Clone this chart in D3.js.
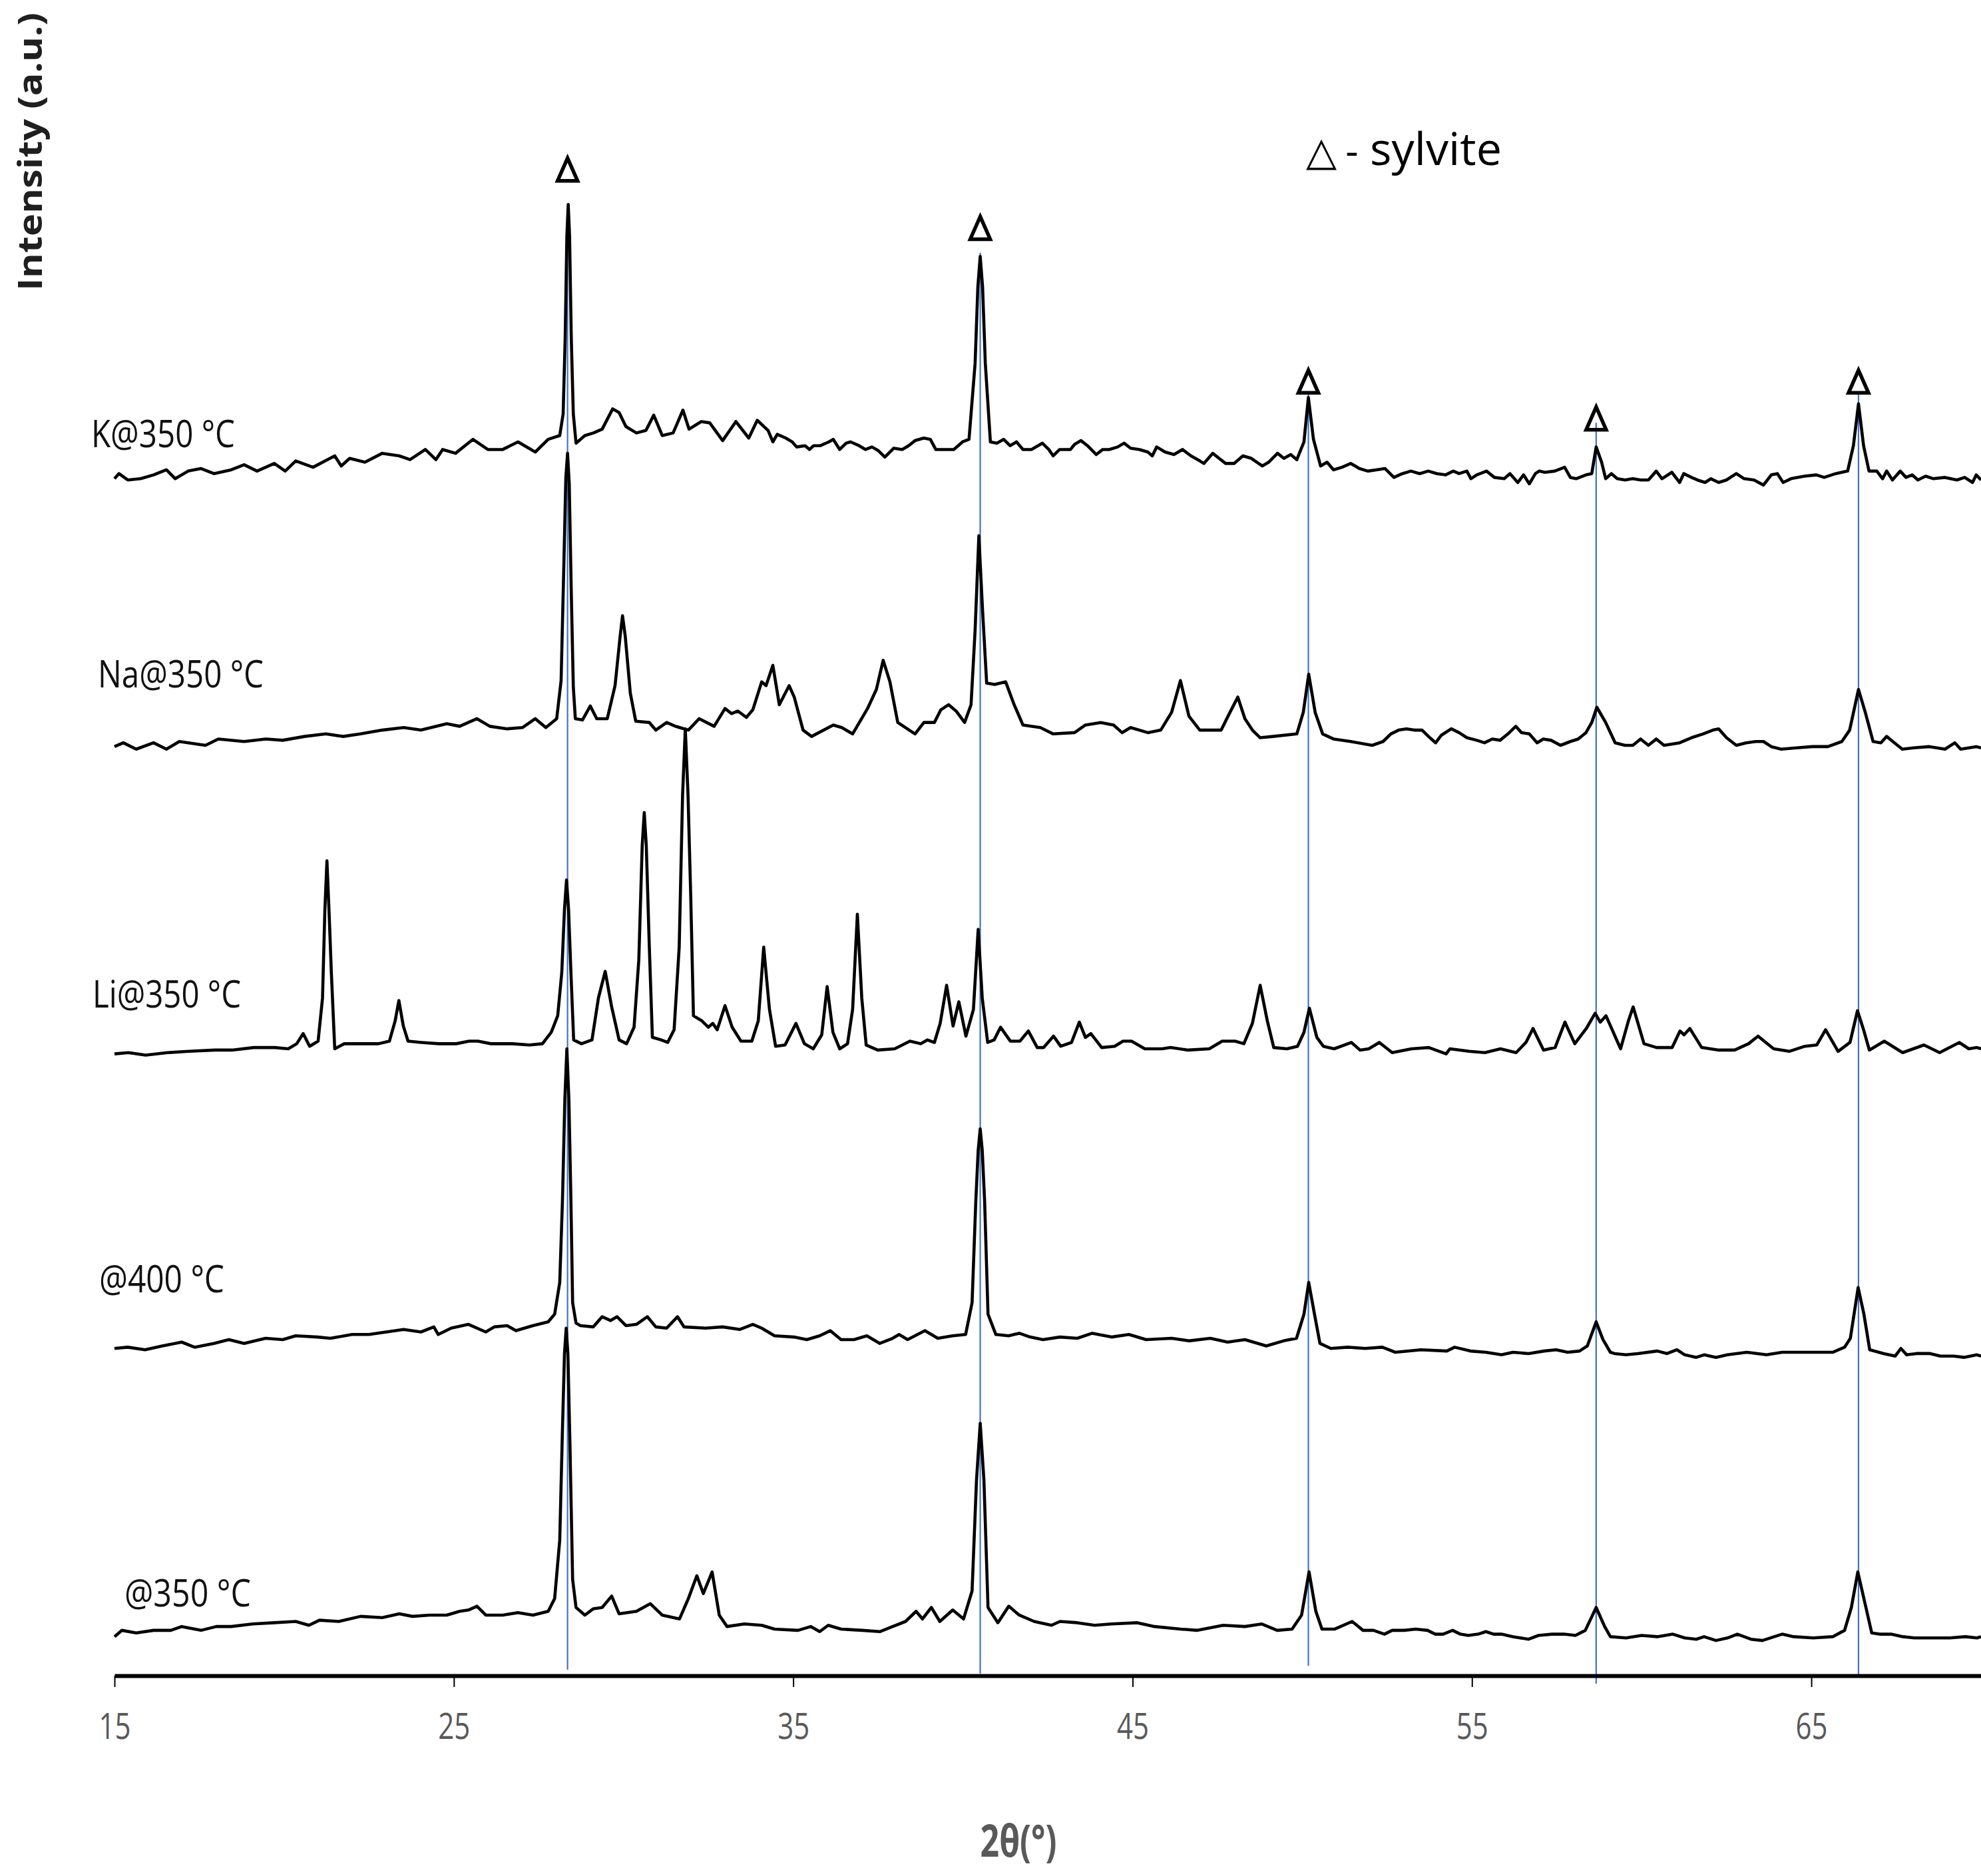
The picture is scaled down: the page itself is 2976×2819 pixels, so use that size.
<!DOCTYPE html>
<html>
<head>
<meta charset="utf-8">
<script src="https://cdn.jsdelivr.net/npm/d3@7"></script>
<style>
  html, body { margin: 0; padding: 0; background: #fff; }
  svg { display: block; }
  text { font-family: 'Open Sans', 'Noto Sans', sans-serif; }
</style>
</head>
<body>
<svg id="chart" width="2976" height="2819"></svg>
<script>
// DATA (2θ in degrees, stacked intensity in a.u.)
const seriesNames = ['K@350 °C', 'Na@350 °C', 'Li@350 °C', '@400 °C', '@350 °C'];

const kData = [
  [15.0,949],[15.13,953],[15.39,948],[15.77,949],[16.15,952],[16.53,956],[16.79,949],[17.17,955],[17.55,957],[17.93,953],
  [18.44,956],[18.82,960],[19.2,955],[19.71,961],[20.03,955],[20.34,963],[20.85,958],[21.49,967],[21.68,959],[21.93,965],
  [22.38,962],[22.89,969],[23.39,967],[23.71,964],[24.16,972],[24.47,964],[24.67,972],[25.05,969],[25.56,980],[26.0,972],
  [26.44,972],[26.89,978],[27.4,970],[27.78,980],[28.12,983],[28.22,1000],[28.28,1060],[28.33,1140],[28.37,1165],[28.41,1140],
  [28.46,1060],[28.52,1000],[28.6,977],[28.86,983],[29.11,985],[29.37,988],[29.68,1004],[29.87,1001],[30.07,990],[30.38,985],
  [30.66,987],[30.89,999],[31.14,983],[31.46,985],[31.75,1003],[31.93,988],[32.29,994],[32.54,993],[32.92,979],[33.31,994],
  [33.69,981],[33.94,995],[34.26,987],[34.4,978],[34.53,984],[34.78,981],[34.97,978],[35.1,974],[35.35,975],[35.48,972],
  [35.6,975],[35.8,975],[36.05,978],[36.18,980],[36.37,972],[36.56,977],[36.69,978],[36.94,975],[37.13,972],[37.32,974],
  [37.51,971],[37.7,966],[37.96,973],[38.21,972],[38.4,975],[38.59,979],[38.85,981],[39.04,980],[39.2,972],[39.48,972],
  [39.73,972],[39.99,978],[40.18,980],[40.36,1040],[40.44,1100],[40.51,1124],[40.58,1100],[40.66,1040],[40.81,978],[41.0,977],
  [41.2,980],[41.39,975],[41.58,978],[41.77,972],[42.02,972],[42.34,977],[42.53,972],[42.66,967],[42.85,972],[43.17,972],
  [43.29,976],[43.48,979],[43.67,975],[43.93,968],[44.12,972],[44.31,972],[44.56,974],[44.75,977],[44.94,973],[45.2,972],
  [45.45,970],[45.58,967],[45.71,974],[45.96,970],[46.22,968],[46.47,972],[46.72,967],[46.98,963],[47.1,961],[47.36,969],
  [47.55,965],[47.74,961],[47.99,961],[48.25,967],[48.5,965],[48.82,959],[49.01,962],[49.27,969],[49.46,965],[49.66,968],
  [49.84,964],[50.05,978],[50.18,1013],[50.33,980],[50.54,959],[50.73,962],[50.92,956],[51.17,958],[51.43,961],[51.68,957],
  [51.93,955],[52.19,956],[52.44,957],[52.7,950],[52.95,953],[53.2,955],[53.46,953],[53.71,955],[53.97,953],[54.22,952],
  [54.45,955],[54.62,953],[54.85,955],[54.97,949],[55.14,952],[55.43,955],[55.66,950],[55.95,949],[56.12,953],[56.35,946],
  [56.52,952],[56.69,945],[56.87,953],[56.98,955],[57.15,954],[57.44,955],[57.73,958],[57.9,950],[58.07,949],[58.36,952],
  [58.53,953],[58.66,974],[58.82,962],[58.94,949],[59.11,953],[59.28,949],[59.51,948],[59.74,949],[59.97,948],[60.2,948],
  [60.43,955],[60.6,949],[60.89,954],[61.12,946],[61.24,953],[61.47,950],[61.64,948],[61.87,946],[62.04,949],[62.27,946],
  [62.5,948],[62.79,953],[63.02,949],[63.31,948],[63.59,944],[63.82,952],[64.0,953],[64.17,946],[64.4,949],[64.8,951],
  [65.15,952],[65.38,950],[65.72,953],[66.07,955],[66.24,975],[66.39,1008],[66.54,975],[66.7,955],[66.93,955],[67.1,949],
  [67.22,955],[67.39,948],[67.62,955],[67.79,950],[67.97,952],[68.14,948],[68.37,951],[68.6,949],[68.94,950],[69.29,948],
  [69.52,950],[69.75,946],[69.86,952],[70,948]
];

const naData = [
  [15.0,738],[15.26,741],[15.64,736],[16.15,741],[16.53,736],[16.91,742],[17.68,739],[18.06,744],[18.82,742],[19.46,744],
  [19.96,743],[20.6,746],[21.23,748],[21.74,746],[22.25,748],[22.89,751],[23.52,753],[24.03,751],[24.79,756],[25.17,754],
  [25.68,760],[26.06,754],[26.57,752],[27.02,753],[27.4,760],[27.71,753],[28.03,760],[28.16,790],[28.24,880],[28.3,950],
  [28.35,969],[28.4,945],[28.46,860],[28.52,785],[28.58,760],[28.79,759],[29.02,770],[29.21,760],[29.52,760],[29.75,786],
  [29.9,825],[29.97,841],[30.05,825],[30.2,780],[30.36,758],[30.76,757],[30.95,751],[31.27,757],[31.53,754],[31.91,751],
  [32.23,760],[32.67,754],[32.99,768],[33.18,764],[33.37,766],[33.62,761],[33.81,767],[34.07,789],[34.2,786],[34.4,802],
  [34.59,771],[34.88,786],[35.03,777],[35.29,751],[35.54,746],[36.18,755],[36.43,753],[36.75,748],[37.19,768],[37.45,783],
  [37.65,806],[37.85,789],[38.08,757],[38.59,748],[38.85,757],[39.16,757],[39.35,767],[39.58,771],[39.8,766],[40.05,757],
  [40.24,771],[40.36,830],[40.47,904],[40.58,845],[40.7,788],[40.94,787],[41.26,789],[41.51,771],[41.77,755],[42.28,753],
  [42.66,748],[43.29,749],[43.61,755],[44.06,757],[44.44,755],[44.69,749],[44.94,753],[45.45,749],[45.83,751],[46.15,765],
  [46.41,790],[46.66,762],[46.98,751],[47.61,751],[47.87,765],[48.1,777],[48.31,760],[48.53,751],[48.76,745],[49.14,746],
  [49.84,748],[50.03,765],[50.19,795],[50.38,765],[50.6,748],[50.92,744],[51.43,742],[52.06,739],[52.38,742],[52.61,748],
  [52.84,751],[53.07,752],[53.3,751],[53.53,751],[53.76,745],[53.93,741],[54.1,747],[54.39,752],[54.62,749],[54.85,745],
  [55.14,743],[55.37,741],[55.6,744],[55.83,743],[56.06,748],[56.29,754],[56.46,749],[56.69,748],[56.92,741],[57.1,744],
  [57.33,743],[57.61,739],[57.9,742],[58.13,744],[58.36,749],[58.53,757],[58.68,769],[58.94,757],[59.22,741],[59.51,739],
  [59.74,739],[59.97,744],[60.2,739],[60.43,744],[60.66,739],[61.12,741],[61.47,745],[61.81,748],[62.1,751],[62.27,752],
  [62.5,745],[62.79,739],[63.08,741],[63.36,742],[63.59,742],[63.82,738],[64.11,736],[64.57,737],[65.03,738],[65.49,738],
  [65.9,742],[66.13,751],[66.39,783],[66.59,765],[66.82,742],[67.05,741],[67.22,746],[67.45,741],[67.68,736],[68.02,737],
  [68.48,738],[68.94,736],[69.23,741],[69.4,736],[69.86,738],[70,737]
];

const liData = [
  [15.0,496],[15.41,497],[15.92,495],[16.56,497],[17.19,498],[17.96,499],[18.46,499],[19.1,501],[19.73,501],[20.12,500],
  [20.37,504],[20.56,512],[20.75,502],[21.0,506],[21.13,540],[21.2,610],[21.26,648],[21.32,610],[21.39,560],[21.49,500],
  [21.77,504],[22.28,504],[22.78,504],[23.1,506],[23.27,522],[23.38,538],[23.51,518],[23.65,506],[24.05,505],[24.56,504],
  [25.07,504],[25.45,506],[25.71,506],[26.09,504],[26.72,504],[27.23,503],[27.61,504],[27.87,513],[28.06,526],[28.18,560],
  [28.26,610],[28.32,633],[28.38,610],[28.45,560],[28.53,507],[28.76,504],[29.07,507],[29.26,540],[29.46,561],[29.65,533],
  [29.87,507],[30.09,504],[30.31,517],[30.45,570],[30.55,660],[30.61,686],[30.67,660],[30.76,580],[30.85,509],[31.11,507],
  [31.3,505],[31.49,515],[31.64,580],[31.74,700],[31.82,752],[31.9,700],[31.98,620],[32.06,526],[32.31,522],[32.5,517],
  [32.63,520],[32.76,515],[32.99,534],[33.2,517],[33.46,506],[33.78,506],[33.97,522],[34.13,580],[34.3,531],[34.48,502],
  [34.76,503],[35.08,520],[35.33,504],[35.59,500],[35.84,511],[36.0,549],[36.17,513],[36.37,500],[36.6,504],[36.75,531],
  [36.89,606],[37.02,540],[37.15,503],[37.49,499],[37.99,500],[38.44,506],[38.76,504],[38.95,507],[39.16,505],[39.33,520],
  [39.52,550],[39.71,518],[39.88,537],[40.09,510],[40.31,531],[40.45,594],[40.57,540],[40.73,505],[40.92,507],[41.11,517],
  [41.4,506],[41.68,506],[41.93,514],[42.19,501],[42.38,501],[42.67,510],[42.88,502],[43.2,505],[43.43,521],[43.61,509],
  [43.77,512],[44.09,501],[44.47,502],[44.72,506],[44.97,506],[45.36,500],[45.87,500],[46.12,501],[46.63,499],[47.26,500],
  [47.64,506],[48.02,506],[48.28,504],[48.53,520],[48.76,550],[48.97,522],[49.16,501],[49.55,500],[49.86,502],[50.05,513],
  [50.21,532],[50.43,509],[50.62,502],[50.94,500],[51.45,505],[51.7,499],[51.96,500],[52.27,505],[52.65,497],[53.22,500],
  [53.73,501],[54.24,496],[54.35,500],[54.92,498],[55.38,497],[55.84,500],[56.3,497],[56.59,505],[56.8,516],[57.11,499],
  [57.45,501],[57.74,521],[58.03,504],[58.37,516],[58.63,528],[58.78,521],[58.95,526],[59.38,500],[59.61,522],[59.75,533],
  [60.07,504],[60.44,501],[60.9,501],[61.13,514],[61.25,511],[61.42,516],[61.77,501],[62.28,499],[62.74,499],[63.15,504],
  [63.43,510],[63.89,500],[64.35,498],[64.81,502],[65.16,503],[65.42,515],[65.79,498],[66.14,505],[66.36,530],[66.54,515],
  [66.71,499],[67.15,506],[67.69,497],[68.32,503],[68.78,497],[69.36,505],[69.64,500],[69.88,501],[70,500]
];

const h400Data = [
  [15.0,264],[15.39,265],[15.9,263],[16.41,266],[16.98,269],[17.36,265],[17.93,268],[18.37,271],[18.82,268],[19.45,272],
  [19.96,271],[20.34,274],[20.98,273],[21.36,272],[22.0,275],[22.5,275],[23.01,277],[23.52,279],[24.03,277],[24.41,281],
  [24.54,275],[24.92,280],[25.43,283],[25.94,277],[26.19,281],[26.57,282],[26.83,278],[27.33,282],[27.78,285],[27.97,291],
  [28.12,316],[28.2,380],[28.27,460],[28.33,500],[28.39,460],[28.45,380],[28.5,300],[28.6,284],[28.73,282],[29.11,281],
  [29.37,289],[29.62,286],[29.81,289],[30.07,282],[30.38,283],[30.7,289],[30.95,281],[31.27,280],[31.59,289],[31.78,281],
  [32.42,280],[32.92,281],[33.43,279],[33.81,283],[34.07,280],[34.45,274],[35.02,273],[35.4,271],[35.78,274],[36.09,278],
  [36.41,271],[36.79,271],[37.17,274],[37.55,268],[37.93,272],[38.12,275],[38.37,271],[38.88,278],[39.26,272],[39.7,274],
  [40.08,275],[40.27,300],[40.38,380],[40.45,420],[40.51,437],[40.57,420],[40.64,380],[40.74,291],[40.97,275],[41.35,274],
  [41.66,276],[41.98,273],[42.36,271],[42.86,273],[43.37,272],[43.81,276],[44.38,273],[44.89,275],[45.4,271],[46.15,272],
  [46.66,270],[47.29,272],[47.8,269],[48.31,271],[48.94,266],[49.45,270],[49.83,272],[50.05,291],[50.19,316],[50.36,291],
  [50.52,268],[50.84,264],[51.34,265],[51.85,264],[52.36,265],[52.74,261],[53.5,263],[54.26,262],[54.49,265],[54.95,262],
  [55.41,261],[55.87,259],[56.21,261],[56.67,260],[57.13,262],[57.48,263],[57.82,261],[58.17,262],[58.4,266],[58.66,285],
  [58.86,271],[59.08,261],[59.2,260],[59.54,259],[59.89,260],[60.46,262],[60.75,260],[61.04,263],[61.27,259],[61.61,257],
  [61.84,259],[62.19,257],[62.53,259],[63.1,261],[63.68,259],[64.14,261],[64.83,261],[65.29,261],[65.63,261],[65.98,265],
  [66.15,272],[66.38,312],[66.55,291],[66.72,263],[67.13,260],[67.47,258],[67.64,264],[67.81,259],[68.1,260],[68.5,260],
  [68.8,258],[69.19,258],[69.5,257],[69.88,259],[70,258]
];

const h350Data = [
  [15.0,37],[15.22,42],[15.64,40],[16.15,42],[16.66,42],[16.98,45],[17.55,42],[18.0,45],[18.44,45],[19.07,47],
  [19.71,48],[20.34,49],[20.73,46],[21.04,50],[21.61,49],[22.25,53],[22.89,52],[23.39,55],[23.78,53],[24.28,54],
  [24.79,54],[25.17,57],[25.43,58],[25.68,61],[25.94,54],[26.44,54],[26.89,56],[27.33,54],[27.78,57],[27.97,67],
  [28.12,113],[28.2,200],[28.26,260],[28.31,280],[28.36,260],[28.42,190],[28.5,82],[28.6,60],[28.86,54],[29.11,59],
  [29.37,60],[29.65,69],[29.87,55],[30.38,57],[30.79,63],[31.14,54],[31.65,51],[31.91,67],[32.16,85],[32.35,71],
  [32.61,88],[32.82,54],[33.05,45],[33.56,47],[34.07,46],[34.45,43],[35.14,42],[35.52,45],[35.78,41],[36.03,46],
  [36.41,43],[37.04,42],[37.55,41],[37.93,45],[38.31,49],[38.62,57],[38.81,51],[39.07,60],[39.32,49],[39.7,58],
  [40.02,51],[40.27,73],[40.4,160],[40.51,205],[40.62,160],[40.74,60],[41.03,48],[41.35,61],[41.66,54],[42.1,49],
  [42.61,46],[42.86,49],[43.37,48],[43.88,46],[44.38,47],[45.14,48],[45.65,45],[46.41,43],[46.91,42],[47.67,46],
  [48.31,45],[48.81,47],[49.26,42],[49.7,43],[49.98,54],[50.2,88],[50.4,57],[50.58,43],[50.96,43],[51.47,49],
  [51.79,42],[52.1,42],[52.42,39],[52.65,42],[53.0,42],[53.34,43],[53.69,42],[53.92,39],[54.15,39],[54.43,42],
  [54.66,39],[54.89,38],[55.18,39],[55.41,41],[55.64,39],[55.87,39],[56.21,37],[56.67,35],[56.96,38],[57.36,39],
  [57.71,39],[58.05,38],[58.34,42],[58.66,60],[58.91,45],[59.08,37],[59.54,36],[60.0,38],[60.46,37],[60.92,39],
  [61.27,36],[61.61,35],[61.84,37],[62.19,34],[62.53,36],[62.82,39],[63.22,35],[63.56,34],[63.91,37],[64.14,39],
  [64.48,37],[65.06,36],[65.63,37],[65.98,42],[66.18,60],[66.37,88],[66.55,67],[66.78,40],[67.01,39],[67.35,39],
  [67.7,37],[68.04,36],[68.5,36],[69.08,36],[69.54,37],[69.88,36],[70,37]
];

// sylvite reflections
const sylvitePeaks = [28.35, 40.51, 50.18, 58.66, 66.39];
const sylviteMarkAt = [1192, 1146, 1025, 996, 1025];
const sylviteLineTop = [1156, 1127, 1016, 993, 1016];
const sylviteLineBottom = [11, 8, 14, 0, 5];

const xTicks = [15, 25, 35, 45, 55, 65];

// SETUP
const svg = d3.select('#chart');
const x = d3.scaleLinear().domain([15, 70]).range([172, 2976]);
const y = d3.scaleLinear().domain([0, 1326]).range([2530, 0]);
const axisCross = 6.3; // horizontal axis crosses the intensity scale here

const series = [kData, naData, liData, h400Data, h350Data].map(function (values, i) {
  return { name: seriesNames[i], values: values };
});

// BLUE GUIDE LINES
svg.append('g')
  .selectAll('line')
  .data(sylvitePeaks)
  .join('line')
  .attr('x1', d => x(d))
  .attr('x2', d => x(d))
  .attr('y1', (d, i) => y(sylviteLineTop[i]))
  .attr('y2', (d, i) => y(sylviteLineBottom[i]))
  .attr('stroke', '#4472C4')
  .attr('stroke-width', 2.2);

// PATTERNS
const line = d3.line()
  .x(d => x(d[0]))
  .y(d => y(d[1]));

svg.append('g')
  .selectAll('path')
  .data(series)
  .join('path')
  .attr('d', d => line(d.values))
  .attr('fill', 'none')
  .attr('stroke', '#000')
  .attr('stroke-width', 4.6)
  .attr('stroke-linejoin', 'round');

// SERIES LABELS
const labelPos = [[137, 672], [147, 1033], [139, 1514], [149, 1942], [187, 2414]];
const labelWidth = [216, 249, 223, 188, 190];
svg.append('g')
  .selectAll('text')
  .data(series)
  .join('text')
  .attr('x', (d, i) => labelPos[i][0])
  .attr('y', (d, i) => labelPos[i][1])
  .attr('font-size', 56)
  .attr('fill', '#111')
  .attr('textLength', (d, i) => labelWidth[i])
  .attr('lengthAdjust', 'spacingAndGlyphs')
  .text(d => d.name);

// SYLVITE MARKERS
svg.append('g')
  .selectAll('path')
  .data(sylvitePeaks)
  .join('path')
  .attr('d', function (d, i) {
    const cx = x(d), cy = y(sylviteMarkAt[i]);
    return 'M' + cx + ',' + (cy - 18) + 'L' + (cx + 15) + ',' + (cy + 16) + 'L' + (cx - 15) + ',' + (cy + 16) + 'Z';
  })
  .attr('fill', 'none')
  .attr('stroke', '#000')
  .attr('stroke-width', 5.5)
  .attr('stroke-linejoin', 'miter');

// LEGEND
const legend = svg.append('g');
legend.append('text')
  .attr('x', 1985)
  .attr('y', 248)
  .attr('text-anchor', 'middle')
  .attr('font-family', 'DejaVu Sans')
  .attr('font-size', 60)
  .text('△');
legend.append('text')
  .attr('x', 2031)
  .attr('y', 248)
  .attr('text-anchor', 'middle')
  .attr('font-size', 60)
  .text('-');
legend.append('text')
  .attr('x', 2058)
  .attr('y', 248)
  .attr('font-size', 68)
  .attr('textLength', 198)
  .attr('lengthAdjust', 'spacingAndGlyphs')
  .text('sylvite');

// X AXIS
const gx = svg.append('g')
  .attr('transform', 'translate(0,' + y(axisCross) + ')')
  .call(d3.axisBottom(x).tickValues(xTicks).tickSizeInner(17).tickSizeOuter(0).tickPadding(40).tickFormat(d3.format('d')));
gx.select('.domain').attr('stroke', '#000').attr('stroke-width', 6);
gx.selectAll('.tick line').attr('stroke', '#000').attr('stroke-width', 2);
gx.selectAll('.tick text')
  .attr('fill', '#595959')
  .attr('font-size', 54)
  .attr('font-family', "'Open Sans', sans-serif")
  .attr('textLength', 48)
  .attr('lengthAdjust', 'spacingAndGlyphs');

// AXIS TITLES
svg.append('text')
  .attr('x', 1530)
  .attr('y', 2790)
  .attr('text-anchor', 'middle')
  .attr('font-size', 66)
  .attr('font-weight', 'bold')
  .attr('fill', '#595959')
  .attr('textLength', 115)
  .attr('lengthAdjust', 'spacingAndGlyphs')
  .text('2θ(°)');

svg.append('text')
  .attr('transform', 'translate(63,228) rotate(-90)')
  .attr('text-anchor', 'middle')
  .attr('font-size', 50)
  .attr('font-weight', 'bold')
  .attr('fill', '#1f1f1f')
  .attr('textLength', 418)
  .attr('lengthAdjust', 'spacingAndGlyphs')
  .text('Intensity (a.u.)');
</script>
</body>
</html>
